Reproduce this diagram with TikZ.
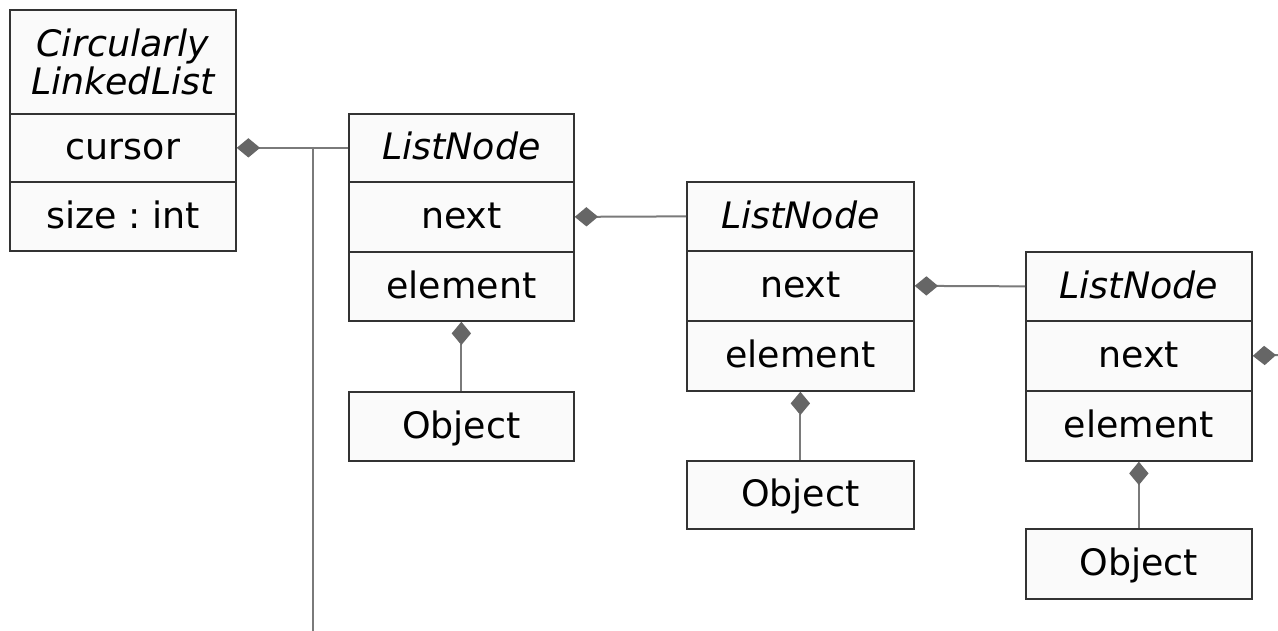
\documentclass[tikz,border=0pt]{standalone}
\usepackage{fontspec}
\setmainfont{DejaVu Sans}
\usetikzlibrary{arrows.meta}
\frenchspacing
\definecolor{boxline}{HTML}{333333}
\definecolor{boxfill}{HTML}{FAFAFA}
\definecolor{connc}{HTML}{7A7A7A}
\definecolor{diac}{HTML}{666666}
\begin{document}
\begin{tikzpicture}[x=0.75pt,y=-0.75pt,
  cell/.style n args={2}{draw=boxline, fill=boxfill, line width=1.3pt, anchor=north west,
    inner sep=0pt, minimum width={#1*0.75pt}, minimum height={#2*0.75pt},
    font=\fontsize{27.3}{30}\selectfont, text height=22.6pt, text depth=5pt},
  hd/.style={font=\fontsize{27.3}{29}\itshape},
  hd2/.style={font=\fontsize{27.3}{29}\itshape, align=center, text height=, text depth=},
  conn/.style={draw=connc, line width=1.5pt},
  comp/.style={conn, {Diamond[length=17.5pt,width=14.5pt,color=diac,fill=diac]}-},
]
\useasboundingbox (0,0) rectangle (1278,631);
% CircularlyLinkedList
\node[cell={226}{104}, hd2] (cllh) at (9,9) {Circularly\\[-1pt]LinkedList};
\node[cell={226}{68}] (cursor) at (9,113) {cursor};
\node[cell={226}{69}] (size) at (9,181) {size : int};
% ListNode 1
\node[cell={225}{68}, hd] (ln1) at (348,113) {ListNode};
\node[cell={225}{70}] (next1) at (348,181) {next};
\node[cell={225}{69}] (elem1) at (348,251) {element};
\node[cell={225}{69}] (obj1) at (348,391) {Object};
% ListNode 2
\node[cell={227}{69}, hd] (ln2) at (686,181) {ListNode};
\node[cell={227}{70}] (next2) at (686,250) {next};
\node[cell={227}{70}] (elem2) at (686,320) {element};
\node[cell={227}{68}] (obj2) at (686,460) {Object};
% ListNode 3
\node[cell={226}{69}, hd] (ln3) at (1025,251) {ListNode};
\node[cell={226}{70}] (next3) at (1025,320) {next};
\node[cell={226}{70}] (elem3) at (1025,390) {element};
\node[cell={226}{70}] (obj3) at (1025,528) {Object};
% connectors
\coordinate (j) at (313,147);
\coordinate (jb) at (313,631);
\coordinate (out) at (1278,355);
\draw[comp] (cursor.east) -- (ln1.west);
\draw[conn] (j) -- (jb);
\draw[comp] (next1.east) -- (ln2.west);
\draw[comp] (next2.east) -- (ln3.west);
\draw[comp] (next3.east) -- (out);
\draw[comp] (elem1.south) -- (obj1.north);
\draw[comp] (elem2.south) -- (obj2.north);
\draw[comp] (elem3.south) -- (obj3.north);
\end{tikzpicture}
\end{document}
